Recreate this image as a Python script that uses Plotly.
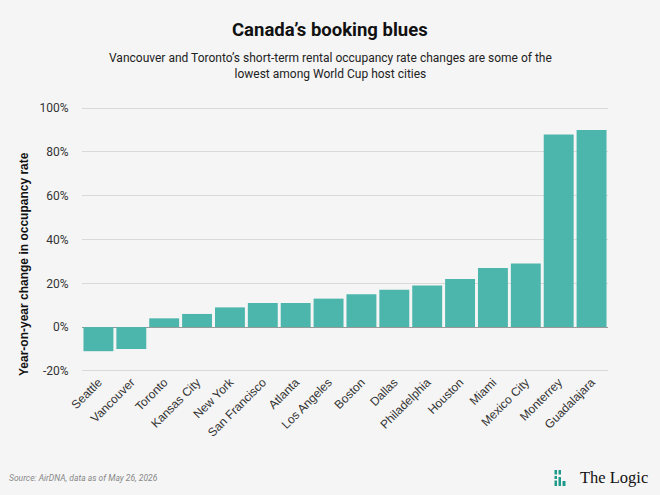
import plotly.graph_objects as go

cities = ["Seattle", "Vancouver", "Toronto", "Kansas City", "New York", "San Francisco",
          "Atlanta", "Los Angeles", "Boston", "Dallas", "Philadelphia", "Houston",
          "Miami", "Mexico City", "Monterrey", "Guadalajara"]
change_pct = [-11, -10, 4, 6, 9, 11, 11, 13, 15, 17, 19, 22, 27, 29, 88, 90]
y_ticks = [-20, 0, 20, 40, 60, 80, 100]
y_tick_labels = ["-20%", "0%", "20%", "40%", "60%", "80%", "100%"]

W, H = 660, 495
L, R, T, B = 82, 52, 107, 123
PW, PH = W - L - R, H - T - B

def px(x):
    return (x - L) / PW

def py(y):
    return 1 - (y - T) / PH

BG = "#f5f5f5"
TEAL = "#4db6ac"

fig = go.Figure(go.Bar(
    x=cities, y=change_pct, marker=dict(color=TEAL, line=dict(width=0)),
    hoverinfo="x+y",
))

fig.update_layout(
    width=W, height=H,
    margin=dict(l=L, r=R, t=T, b=B),
    paper_bgcolor=BG, plot_bgcolor=BG,
    bargap=0.09,
    showlegend=False,
    font=dict(family="Roboto, sans-serif", color="#333"),
)
fig.update_xaxes(
    tickangle=-45,
    tickfont=dict(family="Liberation Sans, Arial, sans-serif", size=12, color="#333"),
    showgrid=False, showline=False, ticks="",
    range=[-0.5, len(cities) - 0.5],
)
fig.update_yaxes(
    range=[-20.5, 100.5],
    tickvals=y_ticks, ticktext=y_tick_labels,
    tickfont=dict(family="Roboto, sans-serif", size=12, color="#333"),
    showgrid=True, gridcolor="#d9d9d9", gridwidth=1,
    zeroline=True, zerolinecolor="#999999", zerolinewidth=1,
    ticks="outside", ticklen=10, tickcolor="rgba(0,0,0,0)",
    showline=False,
)

anns = [
    dict(text="<b>Canada’s booking blues</b>", x=px(330), y=py(30), xref="paper", yref="paper",
         font=dict(family="Roboto, sans-serif", size=18.5, color="#111")),
    dict(text="Vancouver and Toronto’s short-term rental occupancy rate changes are some of the<br>lowest among World Cup host cities",
         x=px(330), y=py(66), xref="paper", yref="paper",
         font=dict(family="Roboto, sans-serif", size=12, color="#222")),
    dict(text="<b>Year-on-year change in occupancy rate</b>", textangle=-90,
         x=px(24), y=py(264), xref="paper", yref="paper",
         font=dict(family="Liberation Sans, Arial, sans-serif", size=12, color="#111")),
    dict(text="<i>Source: AirDNA, data as of May 26, 2026</i>", x=px(7), y=py(478),
         xref="paper", yref="paper", xanchor="left",
         font=dict(family="Roboto, sans-serif", size=8.5, color="#888")),
    dict(text="The Logic", x=px(578), y=py(477), xref="paper", yref="paper", xanchor="left",
         font=dict(family="Liberation Serif, DejaVu Serif, serif", size=16.5, color="#111")),
]
for a in anns:
    a.setdefault("showarrow", False)
    a.setdefault("xanchor", "center")
    a.setdefault("yanchor", "middle")
fig.update_layout(annotations=anns)

logo_blocks = [
    (554.5, 557, 470, 474.5), (554.5, 557, 476, 479), (554.5, 557, 480.5, 486),
    (558.5, 561, 470, 474.5), (558.5, 561, 477, 486),
    (562.5, 565.5, 481, 486),
]
shapes = []
for x0, x1, y0, y1 in logo_blocks:
    shapes.append(dict(type="rect", xref="paper", yref="paper",
                       x0=px(x0), x1=px(x1), y0=py(y1), y1=py(y0),
                       fillcolor="#1f9a8a", line=dict(width=0)))
fig.update_layout(shapes=shapes)

fig.write_html("out.html", config={"displayModeBar": False},
               post_script="document.body.style.margin='0';document.body.style.background='#f5f5f5';")
